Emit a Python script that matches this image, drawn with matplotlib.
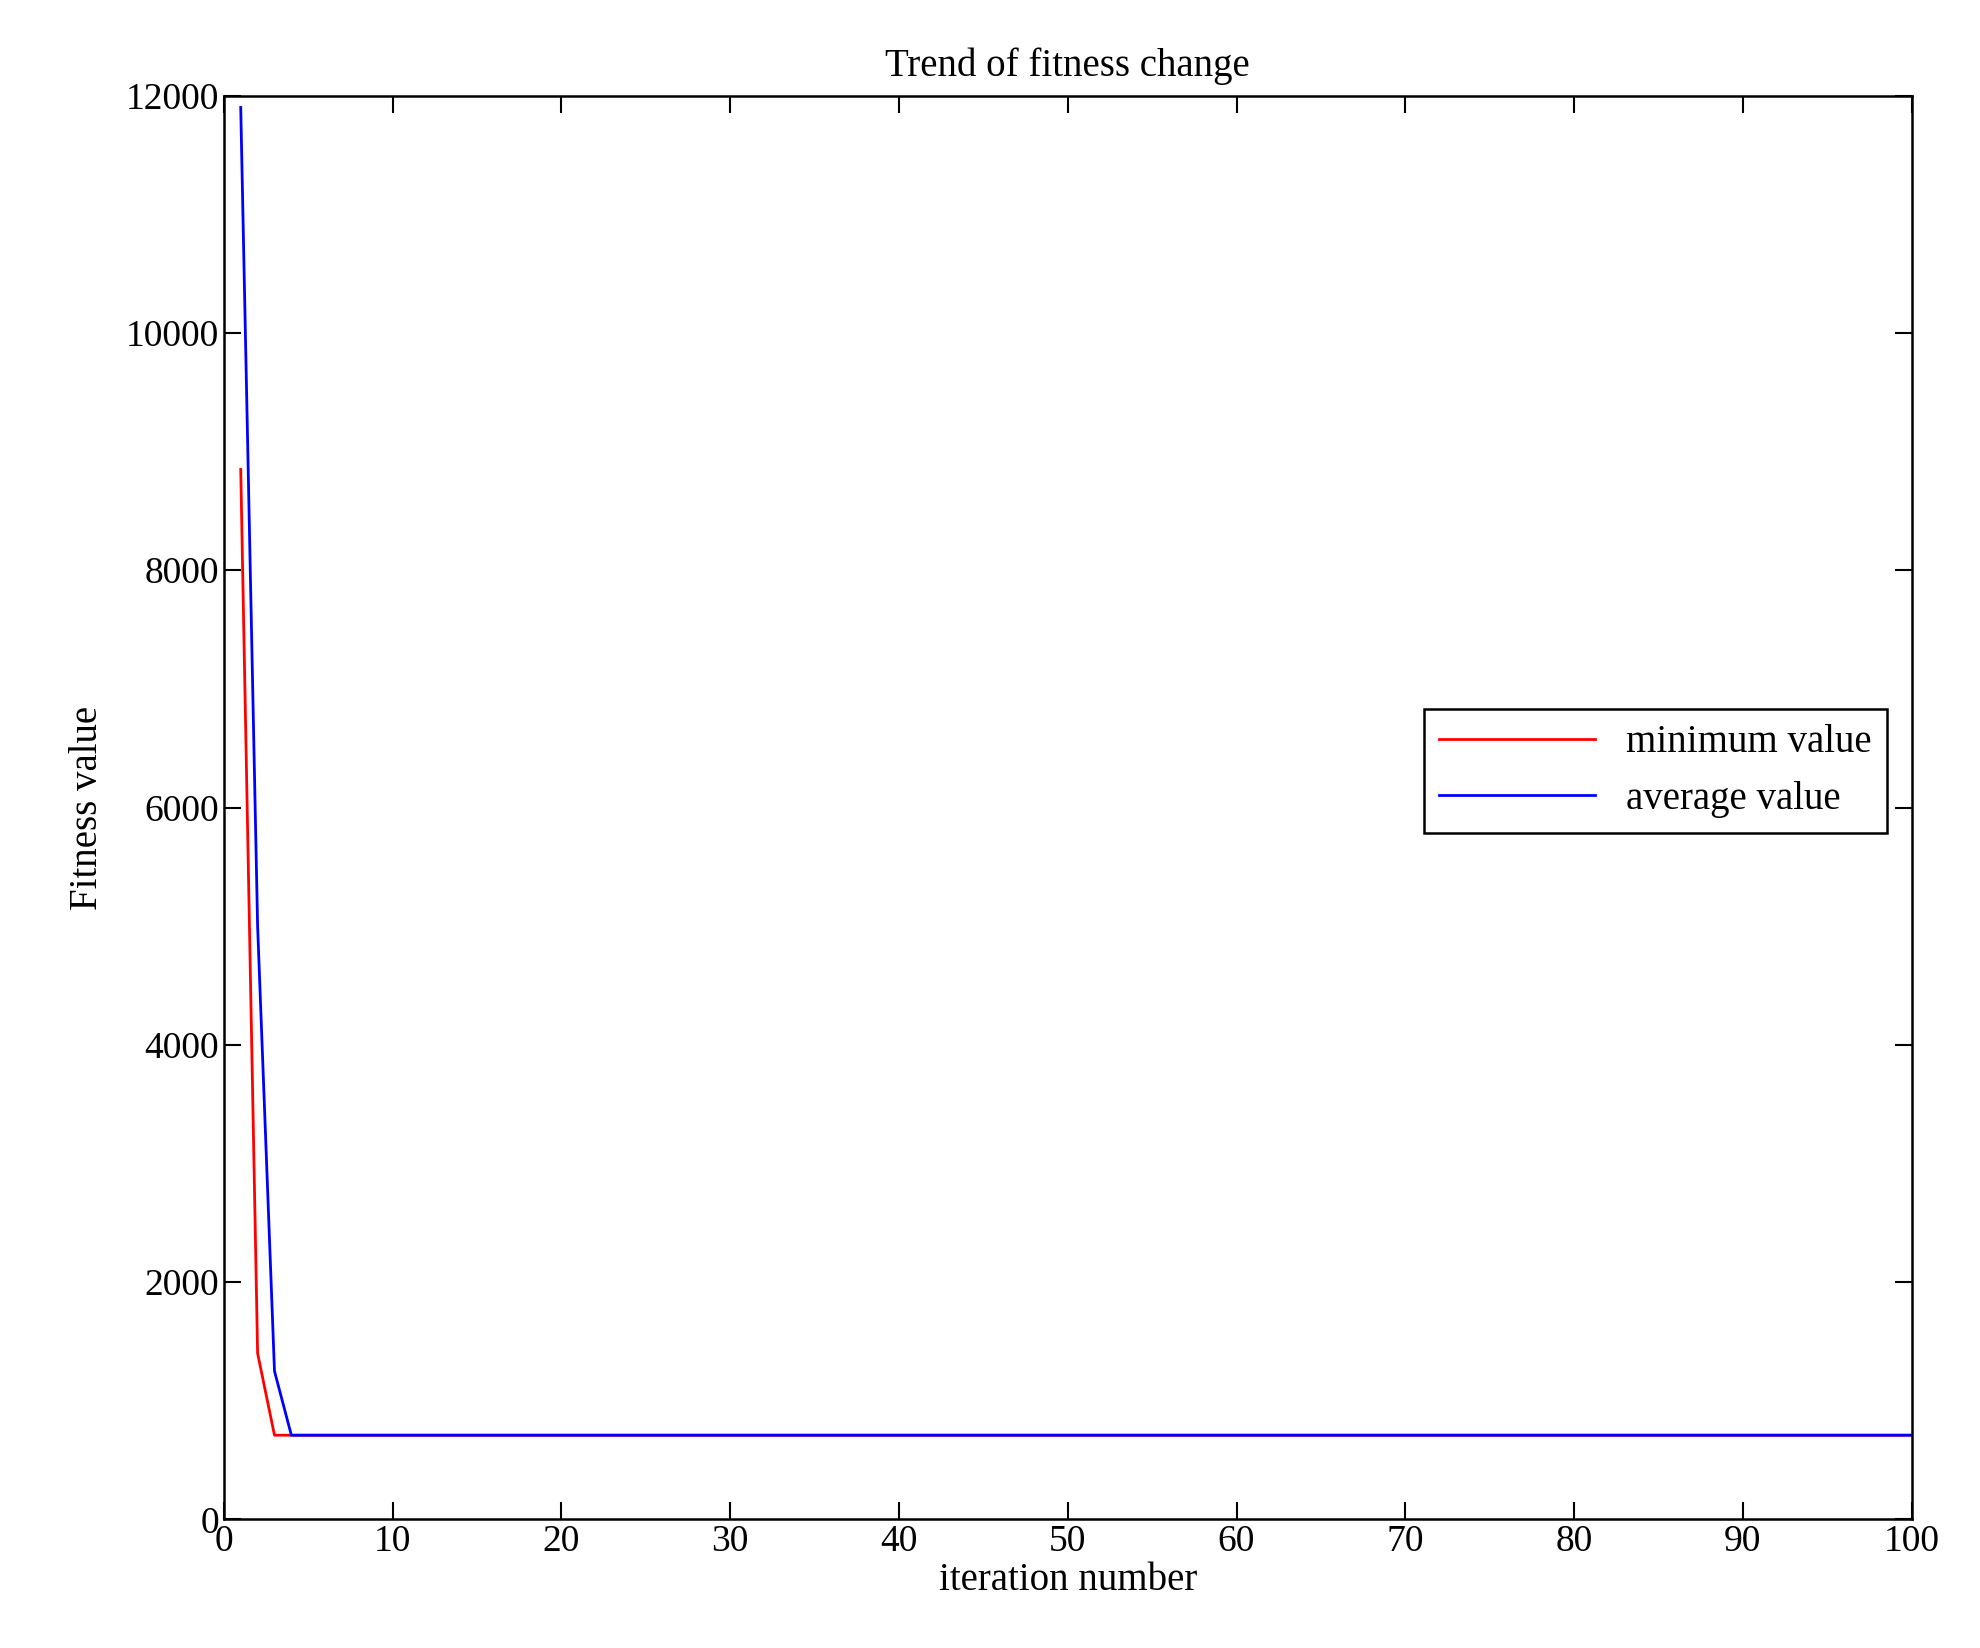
import numpy as np
import matplotlib.pyplot as plt

plt.rcParams['font.family'] = ['Liberation Serif', 'DejaVu Serif']

iters = np.arange(1, 101)
min_head = [8850, 1400]
avg_head = [11900, 5000, 1250]
final_value = 710
min_vals = np.array(min_head + [final_value] * (100 - len(min_head)))
avg_vals = np.array(avg_head + [final_value] * (100 - len(avg_head)))

fig = plt.figure(figsize=(19.81, 16.48), dpi=100)
ax = fig.add_axes([0.113, 0.078, 0.852, 0.864])
ax.plot(iters, min_vals, color='red', lw=2, label='minimum value')
ax.plot(iters, avg_vals, color='blue', lw=2, label='average value')
ax.set_xlim(0, 100)
ax.set_ylim(0, 12000)
ax.set_xticks(np.arange(0, 101, 10))
ax.set_yticks(np.arange(0, 12001, 2000))
ax.tick_params(direction='in', top=True, right=True, labelsize=27, length=12, width=1.5)
for s in ax.spines.values():
    s.set_linewidth(1.8)
ax.set_title('Trend of fitness change', fontsize=28, pad=14)
ax.set_xlabel('iteration number', fontsize=28, labelpad=2)
ax.set_ylabel('Fitness value', fontsize=28, labelpad=14)
leg = ax.legend(loc='upper right', bbox_to_anchor=(0.997, 0.583), fontsize=28,
                fancybox=False, edgecolor='black', framealpha=1, handlelength=4)
leg.get_frame().set_linewidth(1.8)
fig.savefig('out.png', dpi=100)
